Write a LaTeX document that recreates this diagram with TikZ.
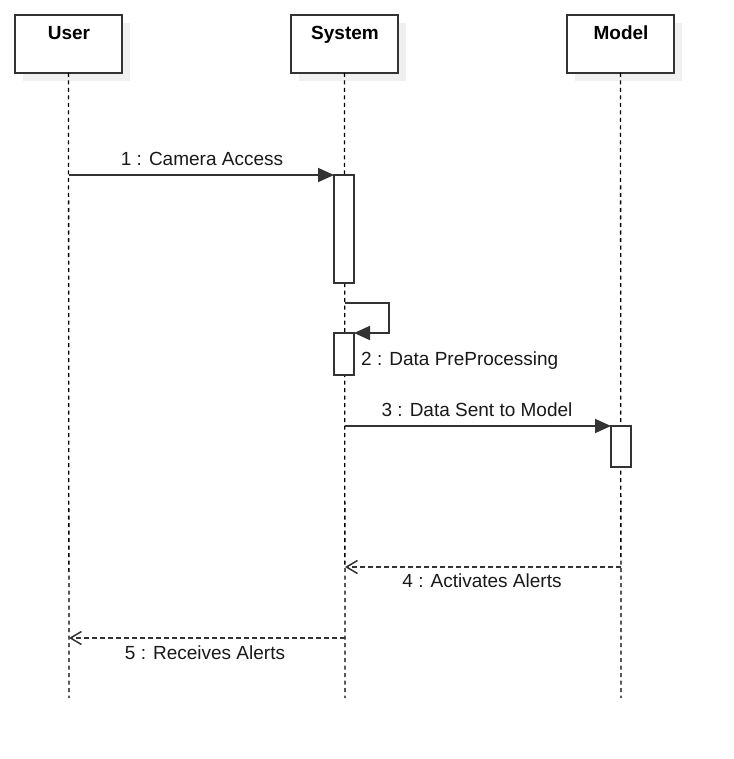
\documentclass[tikz,border=0pt]{standalone}
\usepackage{fontspec}
\setmainfont{Liberation Sans}
\usetikzlibrary{arrows.meta}
\definecolor{ink}{HTML}{333333}
\begin{document}
\begin{tikzpicture}[x=1pt,y=-1pt,
  actorbox/.style={draw=ink, line width=1.8pt, fill=white, minimum width=107pt, minimum height=58pt, inner sep=0pt, outer sep=0pt, anchor=north west},
  shadowbox/.style={fill=black!6, draw=none, minimum width=107pt, minimum height=58pt, inner sep=0pt, outer sep=0pt, anchor=north west},
  actortitle/.style={font=\fontsize{19}{22}\selectfont\bfseries, anchor=base, inner sep=0pt},
  lifeline/.style={draw=black, line width=1.3pt, dash pattern=on 4pt off 3.5pt},
  actbox/.style={draw=ink, line width=1.6pt, fill=white, minimum width=20pt, inner sep=0pt, outer sep=0pt, anchor=north west},
  syncmsg/.style={draw=ink, line width=1.7pt, -{Triangle[length=16pt,width=14pt]}},
  replymsg/.style={draw=ink, line width=1.5pt, dash pattern=on 5pt off 3pt, -{Straight Barb[length=11pt,width=13pt,line width=1.5pt]}},
  msglabel/.style={font=\fontsize{19}{22}\selectfont, anchor=base, inner sep=0pt, text=black!90}
]
\useasboundingbox (0,0) rectangle (733,759);
\fill[white] (0,0) rectangle (733,759);

% shadows
\node[shadowbox] (shU) at (23,23) {};
\node[shadowbox] (shS) at (299,23) {};
\node[shadowbox] (shM) at (575,23) {};

% actor boxes
\node[actorbox] (user) at (15,15) {};
\node[actorbox] (system) at (291,15) {};
\node[actorbox] (model) at (567,15) {};
\node[actortitle] (userT) at (69,40) {User};
\node[actortitle] (systemT) at (345,40) {System};
\node[actortitle] (modelT) at (621,40) {Model};

% lifeline ends
\coordinate (userEnd) at (69,698);
\coordinate (systemEnd) at (345,698);
\coordinate (modelEnd) at (621,698);
\draw[lifeline] (user.south) -- (userEnd);
\draw[lifeline] (system.south) -- (systemEnd);
\draw[lifeline] (model.south) -- (modelEnd);

% activations
\node[actbox, minimum height=108pt] (act1) at (334,175) {};
\node[actbox, minimum height=42pt] (act2) at (334,333) {};
\node[actbox, minimum height=41pt] (act3) at (611,426) {};

% message points on lifelines
\coordinate (u1) at (69,175);
\coordinate (s2a) at (345,303);
\coordinate (s2b) at (389,303);
\coordinate (s2c) at (389,333);
\coordinate (s3) at (345,426);
\coordinate (m4) at (621,567);
\coordinate (s4) at (345,567);
\coordinate (s5) at (345,638);
\coordinate (u5) at (69,638);

% messages
\draw[syncmsg] (u1) -- (act1.north west);
\node[msglabel] (l1) at (202,166) {1 : Camera Access};

\draw[syncmsg] (s2a) -- (s2b) -- (s2c) -- (act2.north east);
\node[msglabel, anchor=base west] (l2) at (361,365) {2 : Data PreProcessing};

\draw[syncmsg] (s3) -- (act3.north west);
\node[msglabel] (l3) at (477,416) {3 : Data Sent to Model};

\draw[replymsg] (m4) -- (s4);
\node[msglabel] (l4) at (482,587) {4 : Activates Alerts};

\draw[replymsg] (s5) -- (u5);
\node[msglabel] (l5) at (205,659) {5 : Receives Alerts};
\end{tikzpicture}
\end{document}
